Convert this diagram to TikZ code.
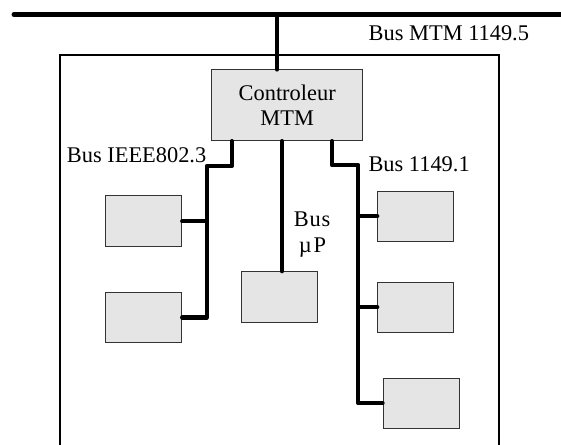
\documentclass[tikz,border=0pt]{standalone}
\usepackage{fontspec}
\setmainfont{Liberation Serif}
\begin{document}
\begin{tikzpicture}[x=1pt,y=-1pt,
  every node/.style={font=\fontsize{22.4}{25}\selectfont},
  unit/.style={draw=black!80,fill=black!10,line width=1pt,inner sep=0pt,
    minimum width=76pt,minimum height=50pt},
  bus/.style={line width=4.3pt,line cap=round,line join=round},
  mainbus/.style={line width=5pt,line cap=round},
  frame/.style={line width=1.2pt},
  lbl/.style={inner sep=0pt}]
\useasboundingbox (0,0) rectangle (561,444);
% outer board
\draw[frame] (60,450) -- (60,55) -- (499,55) -- (499,450);
% top bus
\coordinate (busL) at (14,14.5);
\coordinate (busR) at (568,14.5);
\coordinate (tap) at (277,14.5);
\draw[mainbus] (busL) -- (busR);
% nodes
\node[unit,minimum width=151pt,minimum height=70.7pt,align=center] (ctrl) at (287.2,105.3) {Controleur\\MTM};
\node[unit,minimum height=50.7pt] (L1) at (143.7,221.3) {};
\node[unit,minimum height=50.4pt] (L2) at (143.7,317.5) {};
\node[unit,minimum height=51pt] (M) at (279.7,297.2) {};
\node[unit] (R1) at (415.7,216.2) {};
\node[unit] (R2) at (415.7,307.3) {};
\node[unit] (R3) at (421,403.3) {};
% top tap
\draw[bus] (tap) -- (tap |- ctrl.north);
% IEEE bus
\coordinate (i1) at (231.7,166);
\coordinate (i2) at (206.7,166);
\draw[bus] (i1 |- ctrl.south) -- (i1) -- (i2) -- (i2 |- L2.east) -- (L2.east);
\draw[bus] (L1.east) -- (L1.east -| i2);
% uP bus
\coordinate (mu) at (282,140);
\draw[bus] (mu |- ctrl.south) -- (mu |- M.north);
% 1149.1 bus
\coordinate (j1) at (332,165);
\coordinate (j2) at (358.3,165);
\draw[bus] (j1 |- ctrl.south) -- (j1) -- (j2) -- (j2 |- R3.west) -- (R3.west);
\draw[bus] (R1.west) -- (R1.west -| j2);
\draw[bus] (R2.west) -- (R2.west -| j2);
% labels
\node[lbl,anchor=base west] (tMTM) at (368.5,40.5) {Bus MTM 1149.5};
\node[lbl,anchor=base west] (tIEEE) at (66.7,162.3) {Bus IEEE802.3};
\node[lbl,anchor=base west] (t1149) at (368.3,171) {Bus 1149.1};
\node[lbl,anchor=base] (tBus) at (312,226.7) {B\kern0.8pt u\kern0.8pt s};
\node[lbl,anchor=base] (tmu) at (312.5,252.5) {µ\kern2pt P};
\end{tikzpicture}
\end{document}
